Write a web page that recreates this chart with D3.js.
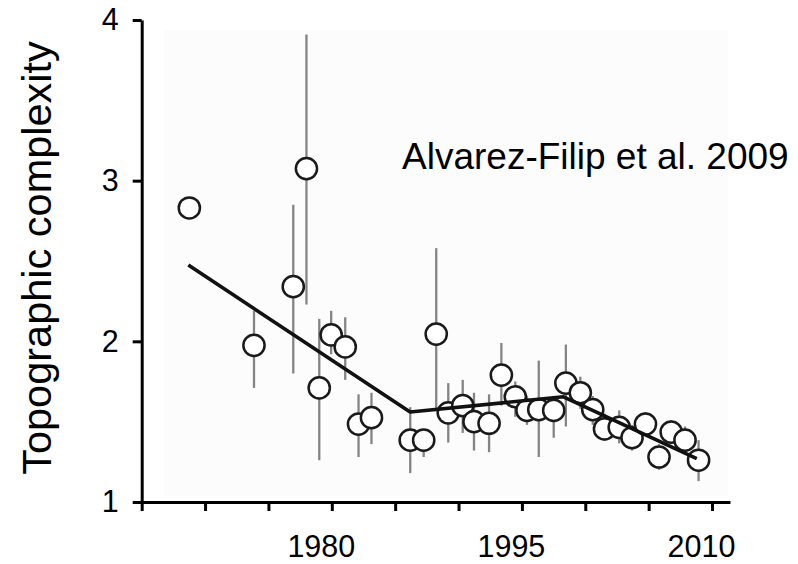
<!DOCTYPE html>
<html>
<head>
<meta charset="utf-8">
<script src="https://cdn.jsdelivr.net/npm/d3@7"></script>
<style>
  html, body { margin: 0; padding: 0; background: #fff; }
  svg { display: block; font-family: "Liberation Sans", Arial, sans-serif; }
</style>
</head>
<body>
<svg id="chart" width="798" height="564"></svg>
<script>
// Survey years and mean topographic complexity with error-bar limits
const years = [1968.76, 1973.86, 1976.96, 1978.0, 1979.01, 1979.95, 1981.06, 1982.11, 1983.13,
  1986.19, 1987.25, 1988.24, 1989.19, 1990.33, 1991.22, 1992.41, 1993.38, 1994.48, 1995.4,
  1996.33, 1997.51, 1998.47, 1999.61, 2000.59, 2001.52, 2002.68, 2003.69, 2004.75, 2005.82,
  2006.78, 2007.87, 2008.94];
const values = [2.83, 1.975, 2.34, 3.075, 1.71, 2.04, 1.965, 1.485, 1.525,
  1.385, 1.385, 2.045, 1.555, 1.60, 1.50, 1.49, 1.79, 1.655, 1.57,
  1.575, 1.57, 1.74, 1.68, 1.575, 1.455, 1.465, 1.40, 1.485, 1.28,
  1.435, 1.385, 1.26];
const lower = [null, 1.71, 1.80, 2.23, 1.26, 1.92, 1.76, 1.28, 1.36,
  1.18, 1.28, 1.57, 1.37, 1.43, 1.32, 1.31, 1.60, 1.53, 1.48,
  1.28, 1.40, 1.47, 1.58, 1.48, 1.38, 1.365, 1.32, 1.41, 1.20,
  1.36, 1.30, 1.13];
const upper = [null, 2.19, 2.85, 3.91, 2.14, 2.19, 2.15, 1.67, 1.68,
  1.59, 1.45, 2.58, 1.74, 1.76, 1.68, 1.67, 1.99, 1.75, 1.66,
  1.88, 1.66, 1.98, 1.78, 1.66, 1.55, 1.57, 1.48, 1.56, 1.36,
  1.51, 1.47, 1.385];

// Piecewise (segmented) regression fit
const trendYears = [1968.68, 1986.18, 1998.28, 2008.8];
const trendValues = [2.475, 1.56, 1.655, 1.27];

// Axis ticks
const xTicks = [1965, 1970, 1975, 1980, 1985, 1990, 1995, 2000, 2005, 2010];
const xLabels = [1980, 1995, 2010];
const yTicks = [1, 2, 3, 4];

const svg = d3.select("#chart");

const x = d3.scaleLinear().domain([1965, 2011.42]).range([141.7, 730]);
const y = d3.scaleLinear().domain([1, 4]).range([502, 20]);

// faint plot backdrop
svg.append("rect")
  .attr("x", 164).attr("y", 30)
  .attr("width", 564).attr("height", 466)
  .attr("fill", "#fcfcfc");

// error bars
const pts = years.map((yr, i) => ({ yr, v: values[i], lo: lower[i], hi: upper[i] }));

svg.append("g")
  .selectAll("line")
  .data(pts.filter(d => d.lo !== null))
  .join("line")
  .attr("x1", d => x(d.yr)).attr("x2", d => x(d.yr))
  .attr("y1", d => y(d.lo)).attr("y2", d => y(d.hi))
  .attr("stroke", "#848484")
  .attr("stroke-width", 2.3);

// open circles for the yearly means
svg.append("g")
  .selectAll("circle")
  .data(pts)
  .join("circle")
  .attr("cx", d => x(d.yr))
  .attr("cy", d => y(d.v))
  .attr("r", 10.6)
  .attr("fill", "#fff")
  .attr("stroke", "#1a1a1a")
  .attr("stroke-width", 2.5);

// fitted trend
const trend = trendYears.map((yr, i) => [yr, trendValues[i]]);
svg.append("path")
  .datum(trend)
  .attr("d", d3.line().x(d => x(d[0])).y(d => y(d[1])))
  .attr("fill", "none")
  .attr("stroke", "#111")
  .attr("stroke-width", 3.6)
  .attr("stroke-linejoin", "round");

// x axis
const xAxis = svg.append("g")
  .attr("transform", `translate(0,${y(1)})`)
  .call(d3.axisBottom(x)
    .tickValues(xTicks)
    .tickSize(9)
    .tickSizeOuter(0)
    .tickPadding(24)
    .tickFormat(d => xLabels.includes(d) ? String(d) : ""));

// y axis
const yAxis = svg.append("g")
  .attr("transform", `translate(${x(1965)},0)`)
  .call(d3.axisLeft(y)
    .tickValues(yTicks)
    .tickSize(9)
    .tickSizeOuter(0)
    .tickPadding(14)
    .tickFormat(d3.format("d")));

[xAxis, yAxis].forEach(g => {
  g.select(".domain").attr("stroke", "#000").attr("stroke-width", 3);
  g.selectAll(".tick line").attr("stroke", "#000").attr("stroke-width", 3);
  g.selectAll(".tick text")
    .attr("fill", "#000")
    .style("font-family", "'Liberation Sans', Arial, sans-serif")
    .style("font-size", "30.5px");
});
xAxis.selectAll(".tick text").attr("dx", -11);

// y-axis title
svg.append("text")
  .attr("transform", "translate(51,258) rotate(-90)")
  .attr("text-anchor", "middle")
  .style("font-size", "41.5px")
  .attr("fill", "#000")
  .text("Topographic complexity");

// source annotation
svg.append("text")
  .attr("x", 402)
  .attr("y", 169)
  .style("font-size", "37px")
  .attr("fill", "#000")
  .text("Alvarez-Filip et al. 2009");
</script>
</body>
</html>
